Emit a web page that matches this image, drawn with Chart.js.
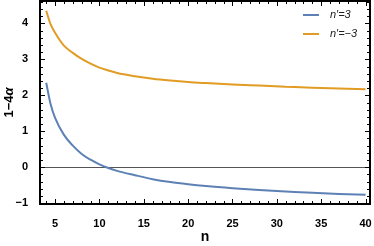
<!DOCTYPE html>
<html lang="en">
<head>
    <meta charset="UTF-8">
    <title>1-4alpha vs n</title>
    <style>
        body { margin: 0; background: #fff; }
        #wrap { width: 374px; height: 246px; }
    </style>
    <script src="https://cdn.jsdelivr.net/npm/chart.js"></script>
</head>
<body>
    <div id="wrap"><canvas id="graph"></canvas></div>
    <script>
        // values
        const nValues = [4, 4.5, 5, 6, 7, 8, 9, 10, 11, 12, 14, 16, 18, 20, 22, 25, 28, 31, 34, 37, 40];
        const bluePlus3 = [2.35, 1.75, 1.37, 0.90, 0.60, 0.37, 0.21, 0.08, -0.02, -0.10, -0.22, -0.33, -0.41, -0.47, -0.52, -0.58, -0.63, -0.67, -0.71, -0.74, -0.76];
        const orangeMinus3 = [4.35, 3.97, 3.74, 3.38, 3.18, 3.01, 2.88, 2.77, 2.69, 2.62, 2.53, 2.46, 2.41, 2.37, 2.34, 2.30, 2.27, 2.24, 2.21, 2.19, 2.17];
        const seriesLabels = ['n\u2032=3', 'n\u2032=\u22123'];
        const xTicks = [5, 10, 15, 20, 25, 30, 35, 40];
        const yTicks = [-1, 0, 1, 2, 3, 4];

        const BLUE = '#5e81b5';
        const ORANGE = '#e19c24';
        const FONT = 'Arial, "Liberation Sans", sans-serif';
        const tickFont = { family: FONT, size: 11, weight: 'bold' };

        // zero line under the curves
        const zeroLine = {
            id: 'zeroLine',
            beforeDatasetsDraw(chart) {
                const c = chart.ctx, a = chart.chartArea;
                const y0 = Math.round(chart.scales.y.getPixelForValue(0));
                c.save();
                c.fillStyle = '#555555';
                c.fillRect(a.left, y0, a.right - a.left, 1);
                c.restore();
            }
        };

        // frame with inward ticks, legend, y title
        const framePlugin = {
            id: 'frame',
            afterDraw(chart) {
                const c = chart.ctx;
                const a = chart.chartArea;
                const xs = chart.scales.x, ys = chart.scales.y;
                const L = Math.round(a.left), R = Math.round(a.right);
                const T = Math.round(a.top), B = Math.round(a.bottom);
                c.save();
                c.fillStyle = '#000000';
                // frame as filled bars
                c.fillRect(L - 1, T - 1, R - L + 2, 2);
                c.fillRect(L - 1, B - 1, R - L + 2, 2);
                c.fillRect(L - 1, T - 1, 2, B - T + 2);
                c.fillRect(R - 1, T - 1, 2, B - T + 2);
                for (let v = 4; v <= 40; v++) {
                    const px = Math.round(xs.getPixelForValue(v));
                    const len = v % 5 === 0 ? 5 : 3;
                    c.fillRect(px, B - len, 1, len);
                    c.fillRect(px, T, 1, len);
                }
                for (let i = -5; i <= 23; i++) {
                    const py = Math.round(ys.getPixelForValue(i / 5));
                    const len = i % 5 === 0 ? 5 : 3;
                    c.fillRect(L, py, len, 1);
                    c.fillRect(R - len, py, len, 1);
                }

                // legend
                c.font = 'italic 11px ' + FONT;
                c.textBaseline = 'middle';
                c.textAlign = 'left';
                chart.data.datasets.forEach((ds, i) => {
                    const ly = 15 + i * 19;
                    c.fillStyle = ds.borderColor;
                    c.fillRect(303, ly - 1, 16, 2);
                    c.fillStyle = '#222222';
                    c.fillText(ds.label, 330, ly);
                });

                // y axis title 1−4α
                c.translate(9, (a.top + a.bottom) / 2);
                c.rotate(-Math.PI / 2);
                c.fillStyle = '#000000';
                const p1 = '1\u22124';
                c.font = 'bold 13px ' + FONT;
                const w1 = c.measureText(p1).width;
                c.font = 'italic bold 13px ' + FONT;
                const w2 = c.measureText('\u03b1').width;
                const x0 = -(w1 + w2) / 2;
                c.font = 'bold 13px ' + FONT;
                c.fillText(p1, x0, 0);
                c.font = 'italic bold 13px ' + FONT;
                c.fillText('\u03b1', x0 + w1, 0);
                c.restore();
            }
        };

        new Chart(document.getElementById('graph'), {
            type: 'line',
            data: {
                datasets: [
                    {
                        label: seriesLabels[0],
                        data: nValues.map((n, i) => ({ x: n, y: bluePlus3[i] })),
                        borderColor: BLUE,
                        borderWidth: 2,
                        pointRadius: 0,
                        cubicInterpolationMode: 'monotone'
                    },
                    {
                        label: seriesLabels[1],
                        data: nValues.map((n, i) => ({ x: n, y: orangeMinus3[i] })),
                        borderColor: ORANGE,
                        borderWidth: 2,
                        pointRadius: 0,
                        cubicInterpolationMode: 'monotone'
                    }
                ]
            },
            options: {
                responsive: true,
                maintainAspectRatio: false,
                animation: false,
                layout: { padding: { top: 1, right: 4, left: 0, bottom: 0 } },
                plugins: { legend: { display: false }, tooltip: { enabled: false } },
                scales: {
                    x: {
                        type: 'linear',
                        min: 3.3,
                        max: 40.5,
                        afterBuildTicks: (s) => { s.ticks = xTicks.map(v => ({ value: v })); },
                        afterFit: (s) => { s.height = 42; s.paddingLeft = 0; s.paddingRight = 0; },
                        grid: { display: false },
                        border: { display: false },
                        ticks: { color: '#000', font: tickFont, padding: 5, maxRotation: 0 },
                        title: {
                            display: true,
                            text: 'n',
                            color: '#000',
                            font: { family: FONT, size: 14, weight: 'bold' },
                            padding: { top: 3, bottom: 0 }
                        }
                    },
                    y: {
                        type: 'linear',
                        min: -1.02,
                        max: 4.62,
                        afterBuildTicks: (s) => { s.ticks = yTicks.map(v => ({ value: v })); },
                        afterFit: (s) => { s.width = 40; s.paddingTop = 0; s.paddingBottom = 0; },
                        grid: { display: false },
                        border: { display: false },
                        ticks: {
                            color: '#000',
                            font: tickFont,
                            padding: 4,
                            callback: (v) => v < 0 ? '\u2212' + Math.abs(v) : String(v)
                        }
                    }
                }
            },
            plugins: [zeroLine, framePlugin]
        });
    </script>
</body>
</html>
